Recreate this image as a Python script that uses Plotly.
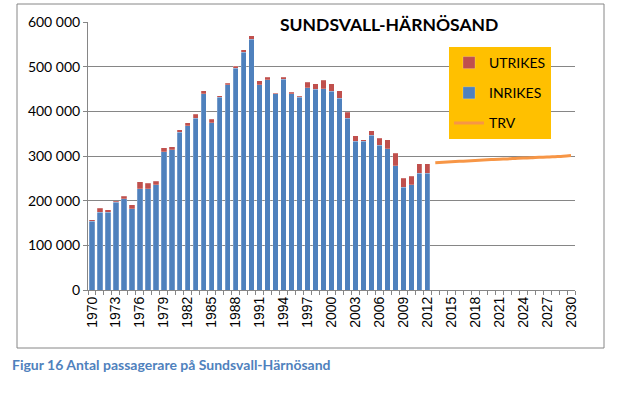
import plotly.graph_objects as go

years = [str(y) for y in range(1970, 2031)]
bar_years = [str(y) for y in range(1970, 2013)]
inrikes = [154000, 174000, 174000, 196000, 204000, 182000, 227000, 227000, 236000, 310000,
           314000, 353000, 368000, 384000, 439000, 374000, 431000, 459000, 497000, 532000,
           561000, 459000, 471000, 439000, 472000, 439000, 431000, 453000, 449000, 451000,
           445000, 429000, 384000, 333000, 333000, 347000, 324000, 316000, 278000, 230000,
           236000, 261000, 261000]
utrikes = [3000, 9000, 6000, 3000, 6000, 9000, 15000, 12000, 8000, 8000,
           7000, 6000, 6000, 9000, 7000, 8000, 4000, 4000, 4000, 6000,
           8000, 9000, 5000, 1000, 4000, 4000, 3000, 12000, 13000, 19000,
           17000, 17000, 14000, 12000, 3000, 9000, 16000, 20000, 28000, 20000,
           19000, 22000, 22000]
trv_years = [str(y) for y in range(2013, 2031)]
trv = [285000, 286000, 287000, 288000, 289000, 290000, 291000, 292000, 293000, 293500,
       294500, 295500, 296000, 297000, 297500, 298500, 299500, 301000]
tick_text = [y if (int(y) - 1970) % 3 == 0 else "" for y in years]

BLUE = "#4F81BD"
RED = "#C0504D"
ORANGE = "#F79646"
GRID = "#868686"

fig = go.Figure()
fig.add_trace(go.Bar(x=bar_years, y=inrikes, name="INRIKES", marker_color=BLUE,
                     marker_line=dict(color="rgba(255,255,255,0.35)", width=0.6),
                     legendrank=2, legendgroup="b"))
fig.add_trace(go.Bar(x=bar_years, y=utrikes, name="UTRIKES", marker_color=RED,
                     marker_line=dict(color="rgba(255,255,255,0.35)", width=0.6),
                     legendrank=1, legendgroup="a"))
fig.add_trace(go.Scatter(x=trv_years, y=trv, name="TRV", mode="lines",
                         line=dict(color=ORANGE, width=3, shape="spline"),
                         legendrank=3, legendgroup="c"))

W, H = 622, 394
L, R, T, B = 88, 47, 22, 104
pw, ph = W - L - R, H - T - B

def px(x):
    return (x - L) / pw

def py(y):
    return (H - B - y) / ph

fig.update_layout(
    width=W, height=H,
    margin=dict(l=L, r=R, t=T, b=B, autoexpand=False),
    barmode="stack", bargap=0.33,
    paper_bgcolor="white", plot_bgcolor="white",
    separators=", ",
    font=dict(family="Lato", color="black"),
    showlegend=True,
    legend=dict(x=px(449), y=py(47), xanchor="left", yanchor="top",
                bgcolor="#FFC000", font=dict(size=14, family="Lato"),
                tracegroupgap=9, itemwidth=30),
    xaxis=dict(type="category", categoryorder="array", categoryarray=years,
               tickvals=years, ticktext=tick_text, tickson="boundaries",
               ticks="outside", ticklen=4, tickcolor=GRID, automargin=False,
               tickangle=-90, tickfont=dict(family="Liberation Sans", size=14),
               showline=True, linecolor=GRID, linewidth=1, showgrid=False,
               range=[-0.5, len(years) - 0.5]),
    yaxis=dict(range=[0, 600000], dtick=100000, tickformat=",d", automargin=False,
               ticks="outside", ticklen=4, tickcolor=GRID,
               showgrid=True, gridcolor=GRID, gridwidth=1,
               showline=True, linecolor=GRID, linewidth=1, zeroline=False,
               tickfont=dict(family="Lato", size=14)),
    shapes=[dict(type="rect", xref="paper", yref="paper",
                 x0=px(17), x1=px(604), y0=py(348), y1=py(4),
                 line=dict(color=GRID, width=1), layer="below")],
    annotations=[
        dict(text="<b>SUNDSVALL-HÄRNÖSAND</b>", xref="paper", yref="paper",
             x=px(389), y=py(25), xanchor="center", yanchor="middle",
             showarrow=False, bgcolor="white",
             font=dict(family="Lato", size=17.5, color="black")),
        dict(text="<b>Figur 16 Antal passagerare på Sundsvall-Härnösand</b>",
             xref="paper", yref="paper", x=px(10), y=py(364),
             xanchor="left", yanchor="middle", showarrow=False,
             font=dict(family="Lato", size=14, color="#4F81BD")),
    ],
)

fig.write_html("out.html",
               config={"displayModeBar": False},
               post_script="document.body.style.margin='0';document.body.style.overflow='hidden';")
